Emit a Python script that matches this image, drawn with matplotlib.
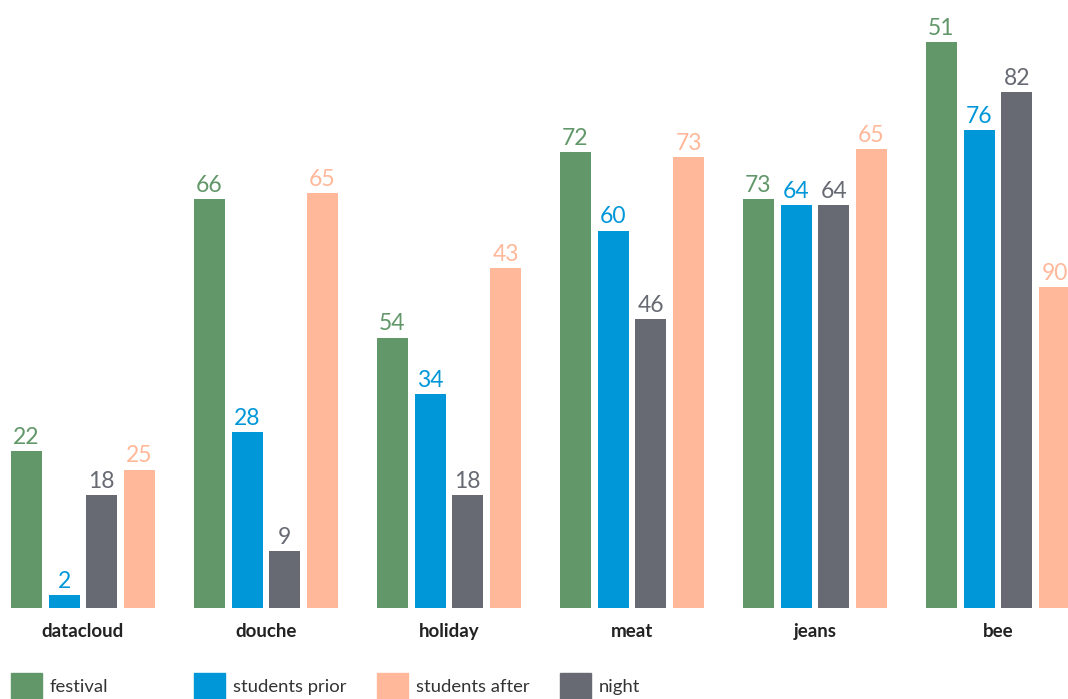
import matplotlib
matplotlib.use("Agg")
import matplotlib.pyplot as plt
from matplotlib.patches import Rectangle
import numpy as np

categories = ["datacloud", "douche", "holiday", "meat", "jeans", "bee"]

# bar heights as drawn
festival = [25, 65, 43, 72.5, 65, 90]
students_prior = [2, 28, 34, 60, 64, 76]
night = [18, 9, 18, 46, 64, 82]
students_after = [22, 66, 54, 71.7, 73, 51]

# numbers printed on top of the bars (the original swaps festival / after)
festival_labels = [22, 66, 54, 72, 73, 51]
students_prior_labels = [2, 28, 34, 60, 64, 76]
night_labels = [18, 9, 18, 46, 64, 82]
students_after_labels = [25, 65, 43, 73, 65, 90]

colors = {
    "festival": "#62976a",
    "students prior": "#0097d9",
    "night": "#676a72",
    "students after": "#ffb899",
}

plt.rcParams["font.family"] = ["Lato", "DejaVu Sans"]

fig = plt.figure(figsize=(10.68, 6.99), dpi=100)
ax = fig.add_axes([0, 1 - 608 / 699, 1, 608 / 699])

x = np.arange(len(categories))
pitch = 37.7 / 183
width = 31 / 183

series = [
    ("festival", festival, festival_labels),
    ("students prior", students_prior, students_prior_labels),
    ("night", night, night_labels),
    ("students after", students_after, students_after_labels),
]

for i, (name, vals, labels) in enumerate(series):
    pos = x + (i - 1.5) * pitch
    ax.bar(pos, vals, width=width, color=colors[name])
    for xp, v, lab in zip(pos, vals, labels):
        ax.text(xp, v + 0.5, str(lab), ha="center", va="bottom",
                fontsize=16.5, color=colors[name])

ax.set_xlim(-83 / 183, (1068 - 83) / 183)
ax.set_ylim(0, 608 / 6.29)
ax.set_xticks(x)
ax.set_xticklabels(categories, fontsize=13.5, fontweight="bold", color="#222222")
ax.tick_params(axis="x", length=0, pad=11)
ax.set_yticks([])
for s in ax.spines.values():
    s.set_visible(False)

# legend drawn by hand, one entry every 183 px
legend_order = ["festival", "students prior", "students after", "night"]
W, H = 1068, 699
for i, name in enumerate(legend_order):
    x0 = 11 + i * 183
    fig.patches.append(Rectangle((x0 / W, 0), 31 / W, 26 / H,
                                 transform=fig.transFigure,
                                 color=colors[name]))
    fig.text((x0 + 39) / W, 1 - 687 / H, name, fontsize=13.3,
             color="#333333", va="center", ha="left")

fig.savefig("out.png", dpi=100)
